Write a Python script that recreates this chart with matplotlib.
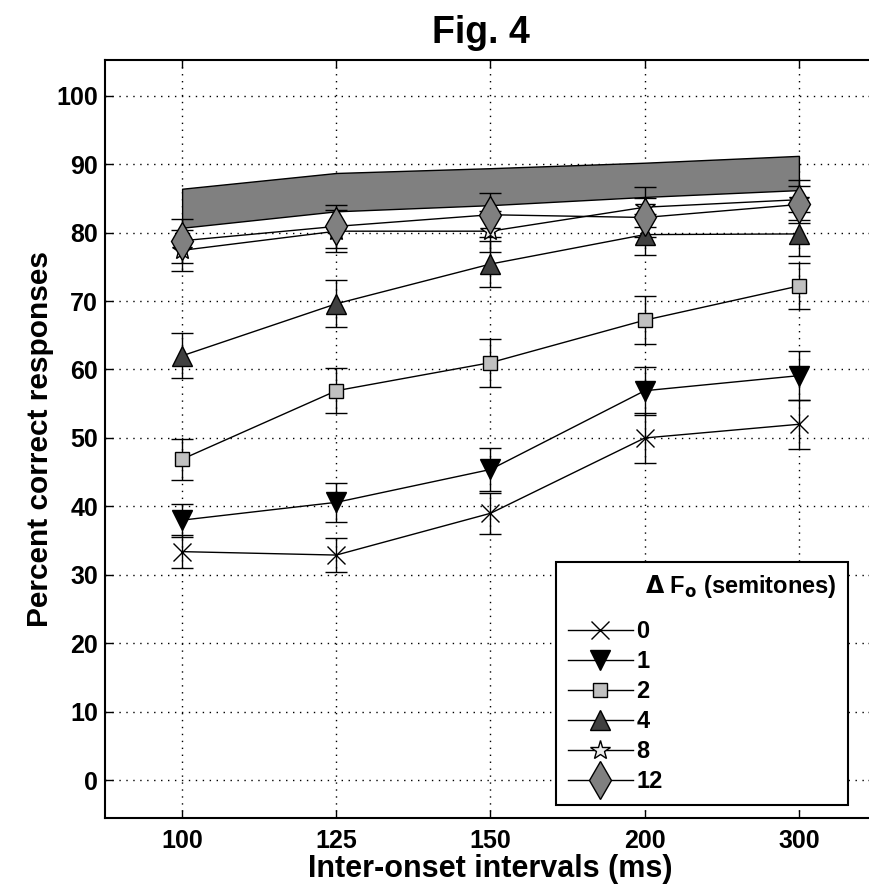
import matplotlib.pyplot as plt
from matplotlib.lines import Line2D
import numpy as np

plt.rcParams['font.family'] = ['Liberation Sans', 'DejaVu Sans']
plt.rcParams['font.weight'] = 'bold'

ioi_labels = ['100', '125', '150', '200', '300']
x = np.arange(1, 6)

band_top = [86.4, 88.7, 89.4, 90.2, 91.2]
band_bottom = [80.7, 83.1, 84.0, 85.2, 86.2]

series_names = ['0', '1', '2', '4', '8', '12']
means = [
    [33.4, 32.9, 39.0, 50.0, 52.0],
    [38.0, 40.6, 45.4, 56.9, 59.1],
    [46.9, 56.9, 61.0, 67.2, 72.2],
    [62.0, 69.6, 75.4, 79.7, 79.8],
    [77.4, 80.2, 80.2, 83.7, 84.8],
    [78.8, 80.9, 82.6, 82.2, 84.1],
]
sems = [
    [2.4, 2.5, 3.0, 3.6, 3.6],
    [2.4, 2.8, 3.2, 3.5, 3.6],
    [3.0, 3.3, 3.5, 3.5, 3.4],
    [3.3, 3.4, 3.3, 3.0, 3.2],
    [3.0, 3.1, 3.0, 2.9, 2.9],
    [3.2, 3.1, 3.2, 2.8, 2.7],
]

markers = ['x', 'v', 's', '^', '*', 'd']
faces = ['black', 'black', '#c0c0c0', '#404040', '#ececec', '#808080']
sizes = [13, 15, 10, 15, 15, 19]

fig = plt.figure(figsize=(8.7, 8.84), dpi=100)
ax = fig.add_axes([105 / 870, 66 / 884, 771 / 870, 758 / 884])

ax.fill_between(x, band_bottom, band_top, facecolor='#808080',
                edgecolor='black', linewidth=1, zorder=2)

handles = []
for name, m, e, mk, fc, ms in zip(series_names, means, sems, markers,
                                  faces, sizes):
    ax.errorbar(x, m, yerr=e, color='black', linewidth=1, elinewidth=1,
                capsize=8, capthick=1, ecolor='black', marker=mk,
                markersize=ms, markerfacecolor=fc, markeredgecolor='black',
                markeredgewidth=1, zorder=3)
    handles.append(Line2D([], [], color='black', linewidth=1, marker=mk,
                          markersize=ms, markerfacecolor=fc,
                          markeredgecolor='black', markeredgewidth=1,
                          label=name))

ax.set_xlim(0.5, 5.5)
ax.set_ylim(-5.5, 105.2)
ax.set_xticks(x)
ax.set_xticklabels(ioi_labels)
ax.set_yticks(np.arange(0, 101, 10))
ax.tick_params(direction='in', top=True, right=True, labelsize=18,
               length=6, width=1, pad=5)
ax.tick_params(axis='x', pad=8)
for lab in ax.get_xticklabels() + ax.get_yticklabels():
    lab.set_fontweight('bold')
ax.grid(True, linestyle=(0, (1, 4)), color='black', linewidth=1)
for sp in ax.spines.values():
    sp.set_linewidth(1.5)

ax.set_title('Fig. 4', fontsize=27, fontweight='bold', pad=12, x=0.487)
ax.set_xlabel('Inter-onset intervals (ms)', fontsize=22, fontweight='bold',
              labelpad=1)
ax.set_ylabel('Percent correct responses', fontsize=21.5, fontweight='bold',
              labelpad=2)

leg = ax.legend(handles=handles, loc='lower left',
                bbox_to_anchor=(0.585, 0.017, 0.379, 0.321), mode='expand',
                title=r'$\Delta$ F$_\mathbf{o}$ (semitones)',
                fontsize=17, title_fontsize=17, frameon=True, fancybox=False,
                edgecolor='black', framealpha=1, handlelength=2.75,
                handletextpad=0.15, labelspacing=0.3, borderaxespad=0,
                borderpad=0.5)
leg.get_frame().set_linewidth(1.5)
leg._legend_box.align = 'right'
leg._legend_box.sep = 14
leg.get_title().set_fontweight('bold')

fig.savefig('out.png', dpi=100)
